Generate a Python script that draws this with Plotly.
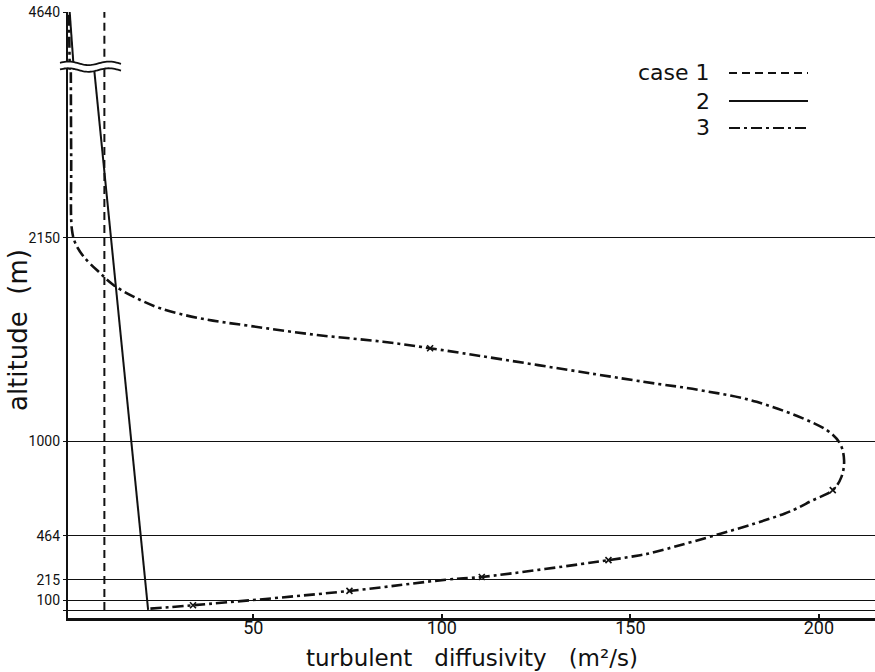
import numpy as np
import plotly.graph_objects as go

# ---------------- data (altitude in m, diffusivity in m^2/s) ----------------
Z_BREAK_LO = 3100      # axis broken above this altitude
Z_BREAK_HI = 4314      # axis resumes at this altitude
TOP_ALT = 4640

ytick_alt = [45, 100, 215, 464, 1000, 2150, 4640]
ytick_text = ["", "100", "215", "464", "1000", "2150", "4640"]
xtick_vals = [50, 100, 150, 200]

case1_k = [10.5, 10.5, None, 10.5, 10.5]
case1_z = [45, 3100, None, 4314, 4640]

case2_k = [22.1, 7.8, None, 2.4, 1.3]
case2_z = [46, 3100, None, 4314, 4640]

case3_k = [22.7, 34.0, 75.5, 101.3, 110.6, 144.2, 152.6, 155.2, 191.0, 198.4,
           203.7, 206.0, 206.7, 205.6, 202.1, 183.5,
           168.5, 153.4, 96.9, 84.4, 66.9, 49.2, 35.9, 25.3, 18.2, 12.9, 9.4,
           5.0, 2.8, 1.9, 1.7, 1.6, None, 1.3, 1.1]
case3_z = [53, 72, 153, 217, 232, 327, 355, 366, 591, 666,
           723, 798, 892, 987, 1062, 1222,
           1288, 1336, 1525, 1562, 1600, 1651, 1694, 1751, 1817, 1883, 1949,
           2043, 2119, 2194, 2600, 3100, None, 4314, 4640]

case3_mark_k = [34.0, 75.5, 110.6, 144.2, 203.7, 96.9]
case3_mark_z = [72, 153, 232, 327, 723, 1525]

legend_labels = ["case 1", "2", "3"]

# ---------------- broken-axis transform ----------------
GAP = Z_BREAK_HI - Z_BREAK_LO


def to_u(zs):
    out = []
    for z in zs:
        if z is None:
            out.append(None)
        elif z <= Z_BREAK_LO:
            out.append(z)
        else:
            out.append(z - GAP)
    return out


W, H = 875, 672
ML, MR, MT, MB = 68, 0, 12, 54
PW = W - ML - MR
PH = H - MT - MB

FONT = "DejaVu Sans"
BLACK = "#111111"

fig = go.Figure()

fig.add_trace(go.Scatter(x=case1_k, y=to_u(case1_z), mode="lines",
                         line=dict(color=BLACK, width=2, dash="8px,5px"),
                         showlegend=False, connectgaps=False))
fig.add_trace(go.Scatter(x=case2_k, y=to_u(case2_z), mode="lines",
                         line=dict(color=BLACK, width=2),
                         showlegend=False, connectgaps=False))
fig.add_trace(go.Scatter(x=case3_k, y=to_u(case3_z), mode="lines",
                         line=dict(color=BLACK, width=2.6, dash="11px,4px,3px,4px",
                                   shape="spline", smoothing=1.0),
                         showlegend=False, connectgaps=False))
fig.add_trace(go.Scatter(x=case3_mark_k, y=to_u(case3_mark_z), mode="markers",
                         marker=dict(symbol="x-thin", size=6, color=BLACK,
                                     line=dict(width=1.6, color=BLACK)),
                         showlegend=False))

u_top = TOP_ALT - GAP

fig.update_xaxes(range=[0.85, 214.9], tickvals=xtick_vals,
                 ticktext=[str(v) for v in xtick_vals],
                 showgrid=False, zeroline=False, showline=True,
                 linecolor=BLACK, linewidth=2.5, ticks="inside", ticklen=4,
                 tickcolor=BLACK, tickwidth=1.5, ticklabelstandoff=-8,
                 tickfont=dict(family="Roboto", size=18, color=BLACK))
fig.update_yaxes(range=[0, u_top], tickvals=to_u(ytick_alt), ticktext=ytick_text,
                 showgrid=True, gridcolor=BLACK, gridwidth=1.2, zeroline=False,
                 showline=True, linecolor=BLACK, linewidth=2.2, ticks="outside",
                 ticklen=3, tickcolor=BLACK, tickwidth=1.2,
                 tickfont=dict(family="Roboto", size=14, color=BLACK))

# axis titles
fig.add_annotation(text="turbulent   diffusivity   (m²/s)", xref="paper", yref="paper",
                   x=(472 - ML) / PW, y=0, yanchor="bottom", yshift=-55, showarrow=False,
                   font=dict(family=FONT, size=23, color=BLACK))
fig.add_annotation(text="altitude  (m)", xref="paper", yref="y", textangle=-90,
                   x=(18 - ML) / PW, y=1628, xanchor="center", yanchor="middle",
                   showarrow=False, font=dict(family=FONT, size=26, color=BLACK))

# legend drawn as text + line samples
leg_y_px = [73, 101, 128]
leg_dash = ["8px,5px", "solid", "11px,4px,3px,4px"]
for lab, ypx, dsh in zip(legend_labels, leg_y_px, leg_dash):
    yp = 1 - (ypx - MT) / PH
    fig.add_annotation(text=lab, xref="paper", yref="paper", x=(712 - ML) / PW, y=yp,
                       xanchor="right", yanchor="middle", showarrow=False,
                       font=dict(family=FONT, size=22, color=BLACK))
    fig.add_shape(type="line", xref="paper", yref="paper",
                  x0=(729 - ML) / PW, x1=(808 - ML) / PW, y0=yp, y1=yp,
                  line=dict(color=BLACK, width=2.2, dash=dsh))

# axis-break symbol (two wavy lines with white between)
t = np.linspace(0, 1, 40)
px0, px1 = 60, 121
xs = (px0 + (px1 - px0) * t - ML) / PW
amp = 10
wave = amp * np.sin(2 * np.pi * 1.5 * t + 0.3)
upper = Z_BREAK_LO + 36 + wave
lower = Z_BREAK_LO - 2 + wave
path = "M " + " L ".join(f"{x:.5f},{y:.2f}" for x, y in zip(xs, upper))
path += " L " + " L ".join(f"{x:.5f},{y:.2f}" for x, y in zip(xs[::-1], lower[::-1])) + " Z"
fig.add_shape(type="path", xref="paper", yref="y", path=path,
              fillcolor="white", line=dict(color="white", width=0), layer="above")
for arr in (upper, lower):
    p = "M " + " L ".join(f"{x:.5f},{y:.2f}" for x, y in zip(xs, arr))
    fig.add_shape(type="path", xref="paper", yref="y", path=p,
                  line=dict(color=BLACK, width=1.8), layer="above")

fig.update_layout(width=W, height=H, margin=dict(l=ML, r=MR, t=MT, b=MB),
                  paper_bgcolor="white", plot_bgcolor="white",
                  showlegend=False, font=dict(family=FONT, color=BLACK))

fig.write_html("out.html")
